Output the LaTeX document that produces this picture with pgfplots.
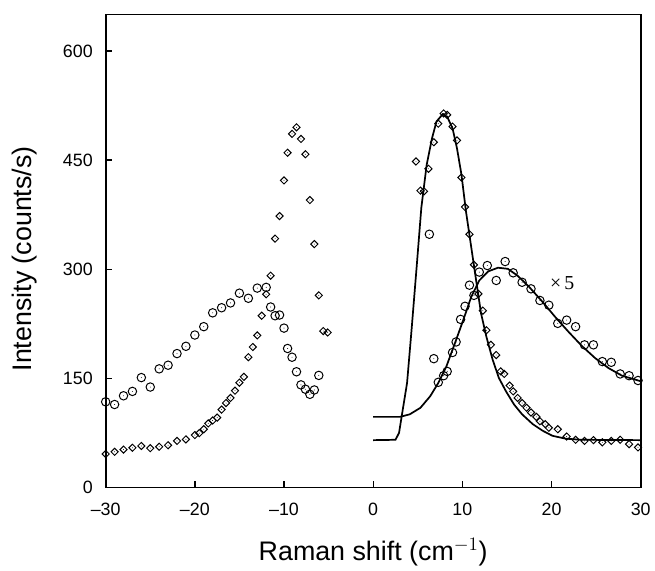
\documentclass[border=0pt]{standalone}
\usepackage{fontspec}
\setmainfont{Liberation Sans}
\newfontfamily\seriffont{Liberation Serif}
\usepackage{pgfplots}
\pgfplotsset{compat=1.18}
\pgfdeclareplotmark{odot}{%
  \pgfpathcircle{\pgfpoint{0pt}{0pt}}{\pgfplotmarksize}\pgfusepathqstroke
  \pgfpathcircle{\pgfpoint{0pt}{0pt}}{0.35pt}\pgfusepathqfill}
\pgfdeclareplotmark{ddot}{%
  \pgfpathmoveto{\pgfpoint{0pt}{\pgfplotmarksize}}%
  \pgfpathlineto{\pgfpoint{\pgfplotmarksize}{0pt}}%
  \pgfpathlineto{\pgfpoint{0pt}{-\pgfplotmarksize}}%
  \pgfpathlineto{\pgfpoint{-\pgfplotmarksize}{0pt}}%
  \pgfpathclose\pgfusepathqstroke
  \pgfpathcircle{\pgfpoint{0pt}{0pt}}{0.35pt}\pgfusepathqfill}
\begin{document}
\begin{tikzpicture}
\begin{axis}[
  scale only axis, width=405pt, height=358pt,
  xmin=-30, xmax=30, ymin=0, ymax=650,
  xtick={-30,-20,-10,0,10,20,30},
  xticklabels={--30,--20,--10,0,10,20,30},
  ytick={0,150,300,450,600},
  tick pos=left, tick align=inside,
  major tick length=5pt,
  axis line style={line width=1.3pt}, tick style={line width=1pt, black},
  /pgf/number format/assume math mode=true,
  ticklabel style={font=\fontsize{13.5}{16}\selectfont},
  xticklabel style={yshift=-8pt},
  yticklabel style={xshift=-6.3pt},
  xlabel={Raman shift (cm$^{-1}$)},
  ylabel={Intensity (counts/s)},
  label style={font=\fontsize{20.3}{24}\selectfont},
  xlabel style={at={(axis description cs:0.5,0)}, anchor=base, yshift=-55pt},
  ylabel style={at={(axis description cs:0,0.5)}, anchor=center, yshift=61.5pt, xshift=-6pt},
  clip=false,
]
% left circles
\addplot[only marks, mark=odot, mark size=3.2pt, line width=0.75pt] coordinates {
(-30,117.7)(-29,114)(-28,126)(-27,132)(-26,151)(-25,138)(-24,163)(-23,168)(-22,184)(-21,194)
(-20,209.5)(-19,221)(-18,240)(-17,247)(-16,253.6)(-15,267)(-14,260)(-13,274)(-12,275)(-11.5,248)
(-11,236)(-10.5,237)(-10,219)(-9.6,191)(-9.1,179)(-8.6,159)(-8.1,141)(-7.6,135)(-7.1,128)(-6.6,134)(-6.1,154)
};
% left diamonds
\addplot[only marks, mark=ddot, mark size=2.7pt, line width=0.75pt] coordinates {
(-30,46)(-29,49)(-28,52)(-27,54.5)(-26,57)(-25,54)(-24,56)(-23,58)(-22,64)(-21,66)
(-20,72)(-19.5,74.6)(-19,80)(-18.5,88)(-18,92)(-17.5,96)(-17,107)(-16.5,116)(-16,123)(-15.5,133)
(-15,144)(-14.5,152)(-14,179)(-13.5,193)(-13,209)(-12.5,236)(-12,265.5)(-11.5,291)(-11,342)(-10.5,373)
(-10,422)(-9.6,460)(-9.1,486)(-8.6,495)(-8.1,479)(-7.6,458)(-7.1,395)(-6.6,334.5)(-6.1,264)(-5.6,215)(-5.1,213)
};
% right diamonds
\addplot[only marks, mark=ddot, mark size=2.7pt, line width=0.75pt] coordinates {
(4.8,448)(5.3,408)(5.7,407)(6.2,438)(6.8,474.5)(7.3,500)(7.9,514)(8.3,512)(8.9,496)(9.4,477)
(9.9,426)(10.3,385.5)(10.8,348)(11.3,306)(11.8,266)(12.3,243)(12.7,216)(13.2,196)(13.8,182)(14.3,159.5)
(14.7,156)(15.3,140)(15.7,132)(16.2,123)(16.7,116)(17.2,109.5)(17.7,103)(18.3,97)(18.7,91)(19.3,87)
(19.7,82)(20.7,80)(21.7,70)(22.7,65.5)(23.7,64)(24.7,65)(25.7,62)(26.7,64)(27.7,65.5)(28.7,59.5)(29.7,55)
};
% right circles
\addplot[only marks, mark=odot, mark size=3.2pt, line width=0.75pt] coordinates {
(6.3,348)(6.8,177)(7.3,144.5)(7.9,153.6)(8.3,159.5)(8.9,185.5)(9.3,200)(9.8,231)(10.3,249)(10.8,278)
(11.3,264)(11.9,296)(12.8,305)(13.8,284.5)(14.8,310.5)(15.7,295)(16.7,282)(17.7,273)(18.7,257)(19.7,250.5)
(20.7,225.5)(21.7,230)(22.7,221)(23.7,196)(24.7,196)(25.7,173)(26.7,172)(27.7,156)(28.7,153.6)(29.7,147)
};
% narrow fit
\addplot[no marks, line width=1.3pt] coordinates {
(0,65)(2.5,65.5)(2.9,75)(3.2,98)(3.8,143.6)(4.3,216)(4.9,307)(5.4,384.5)(6,443.6)(6.6,480)
(7.1,503)(7.8,513)(8.3,509.5)(8.9,493.6)(9.4,466)(9.9,430)(10.4,380)(11,330)(11.6,280)(12.1,239)
(12.7,207)(13.4,175.5)(14.1,150.4)(14.9,132)(15.8,114)(16.7,100.5)(17.9,87)(19,78)(20.1,71)(21.6,67)
(23.4,65.5)(30,65)
};
% broad fit (x5)
\addplot[no marks, line width=1.3pt] coordinates {
(0,97)(3.0,97)(4.1,100.5)(5.3,109.5)(6.4,125.5)(7.3,143.6)(8.2,166)(9.1,196)(10.1,230)(11,262)
(11.9,284.5)(12.9,297)(14,302)(15.1,300.5)(16.2,291)(17.5,275.5)(19,255)(20.4,234.5)(21.9,214)(23.4,194.5)
(24.9,177.7)(26.4,164)(27.9,153.6)(30,146)
};
\node[font=\seriffont\fontsize{15}{17}\selectfont] at (axis cs:21.2,281) {×\,5};
\end{axis}
\path (current axis.north) ++(0,11pt);
\path (current axis.south west) ++(-80pt,0);
\path (current axis.east) ++(6.75pt,0);
\end{tikzpicture}
\end{document}
